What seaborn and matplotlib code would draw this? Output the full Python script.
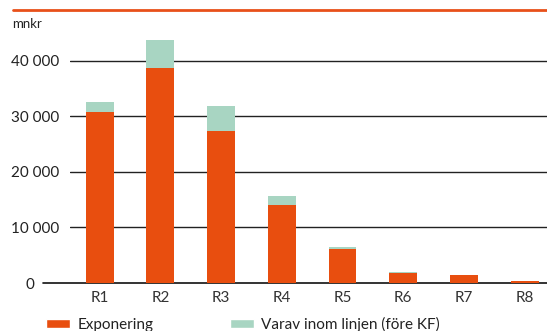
import matplotlib
matplotlib.use("Agg")
import matplotlib.pyplot as plt
from matplotlib.lines import Line2D
from matplotlib.patches import Patch
from matplotlib.transforms import ScaledTranslation
import seaborn as sns
import pandas as pd

# Exposure per rating class (mnkr)
klasser = ["R1", "R2", "R3", "R4", "R5", "R6", "R7", "R8"]
exponering = [30800, 38700, 27400, 14050, 6100, 1800, 1450, 400]
inom_linjen = [1800, 5100, 4500, 1650, 380, 180, 0, 0]
y_ticks = [0, 10000, 20000, 30000, 40000]

ORANGE = "#E84E0F"
GREEN = "#A8D5C2"

sns.set_theme(style="white")
plt.rcParams["font.family"] = ["Lato", "DejaVu Sans"]

df = pd.DataFrame({
    "klass": klasser,
    "exponering": exponering,
    "total": [a + b for a, b in zip(exponering, inom_linjen)],
})

fig = plt.figure(figsize=(5.47, 3.31), dpi=100)
ax = fig.add_axes([0.128, 0.145, 0.872, 0.738])

# stacked: full height in green, exposure part drawn over it in orange
sns.barplot(data=df, x="klass", y="total", color=GREEN, width=0.46,
            saturation=1, linewidth=0, ax=ax, zorder=3)
sns.barplot(data=df, x="klass", y="exponering", color=ORANGE, width=0.46,
            saturation=1, linewidth=0, ax=ax, zorder=4)

ax.set_xlim(-0.49, 7.37)
ax.set_ylim(0, 44000)
ax.set_yticks(y_ticks)
ax.set_yticklabels([f"{v:,}".replace(",", " ") for v in y_ticks])
for v in y_ticks[1:]:
    ax.axhline(v, color="#222222", lw=1.0, zorder=1)
ax.axhline(0, xmin=-0.057, xmax=1, color="#111111", lw=1.2,
           zorder=2, clip_on=False)

for s in ax.spines.values():
    s.set_visible(False)
ax.set_xlabel("")
ax.set_ylabel("")
ax.tick_params(axis="y", length=0, pad=8, labelsize=11, labelcolor="#222222")
ax.tick_params(axis="x", length=0, pad=6, labelsize=11, labelcolor="#333333")

# the zero label sits left of the longer baseline
zero_lbl = ax.get_yticklabels()[0]
zero_lbl.set_transform(zero_lbl.get_transform()
                       + ScaledTranslation(-0.25, 0, fig.dpi_scale_trans))

fig.text(0.022, 0.928, "mnkr", fontsize=9.5, color="#222222", va="center")

# accent rule along the top
fig.add_artist(Line2D([0.024, 1.0], [0.969, 0.969], color="#E8501A",
                      lw=2.0, transform=fig.transFigure))

handles = [Patch(facecolor=ORANGE, label="Exponering"),
           Patch(facecolor=GREEN, label="Varav inom linjen (före KF)")]
fig.legend(handles=handles, loc="center left", bbox_to_anchor=(0.084, 0.021),
           ncol=2, frameon=False, fontsize=11, handlelength=1.6,
           handleheight=0.5, handletextpad=0.45, columnspacing=5.0,
           borderpad=0, borderaxespad=0, labelcolor="#222222")

fig.savefig("out.png", dpi=100)
